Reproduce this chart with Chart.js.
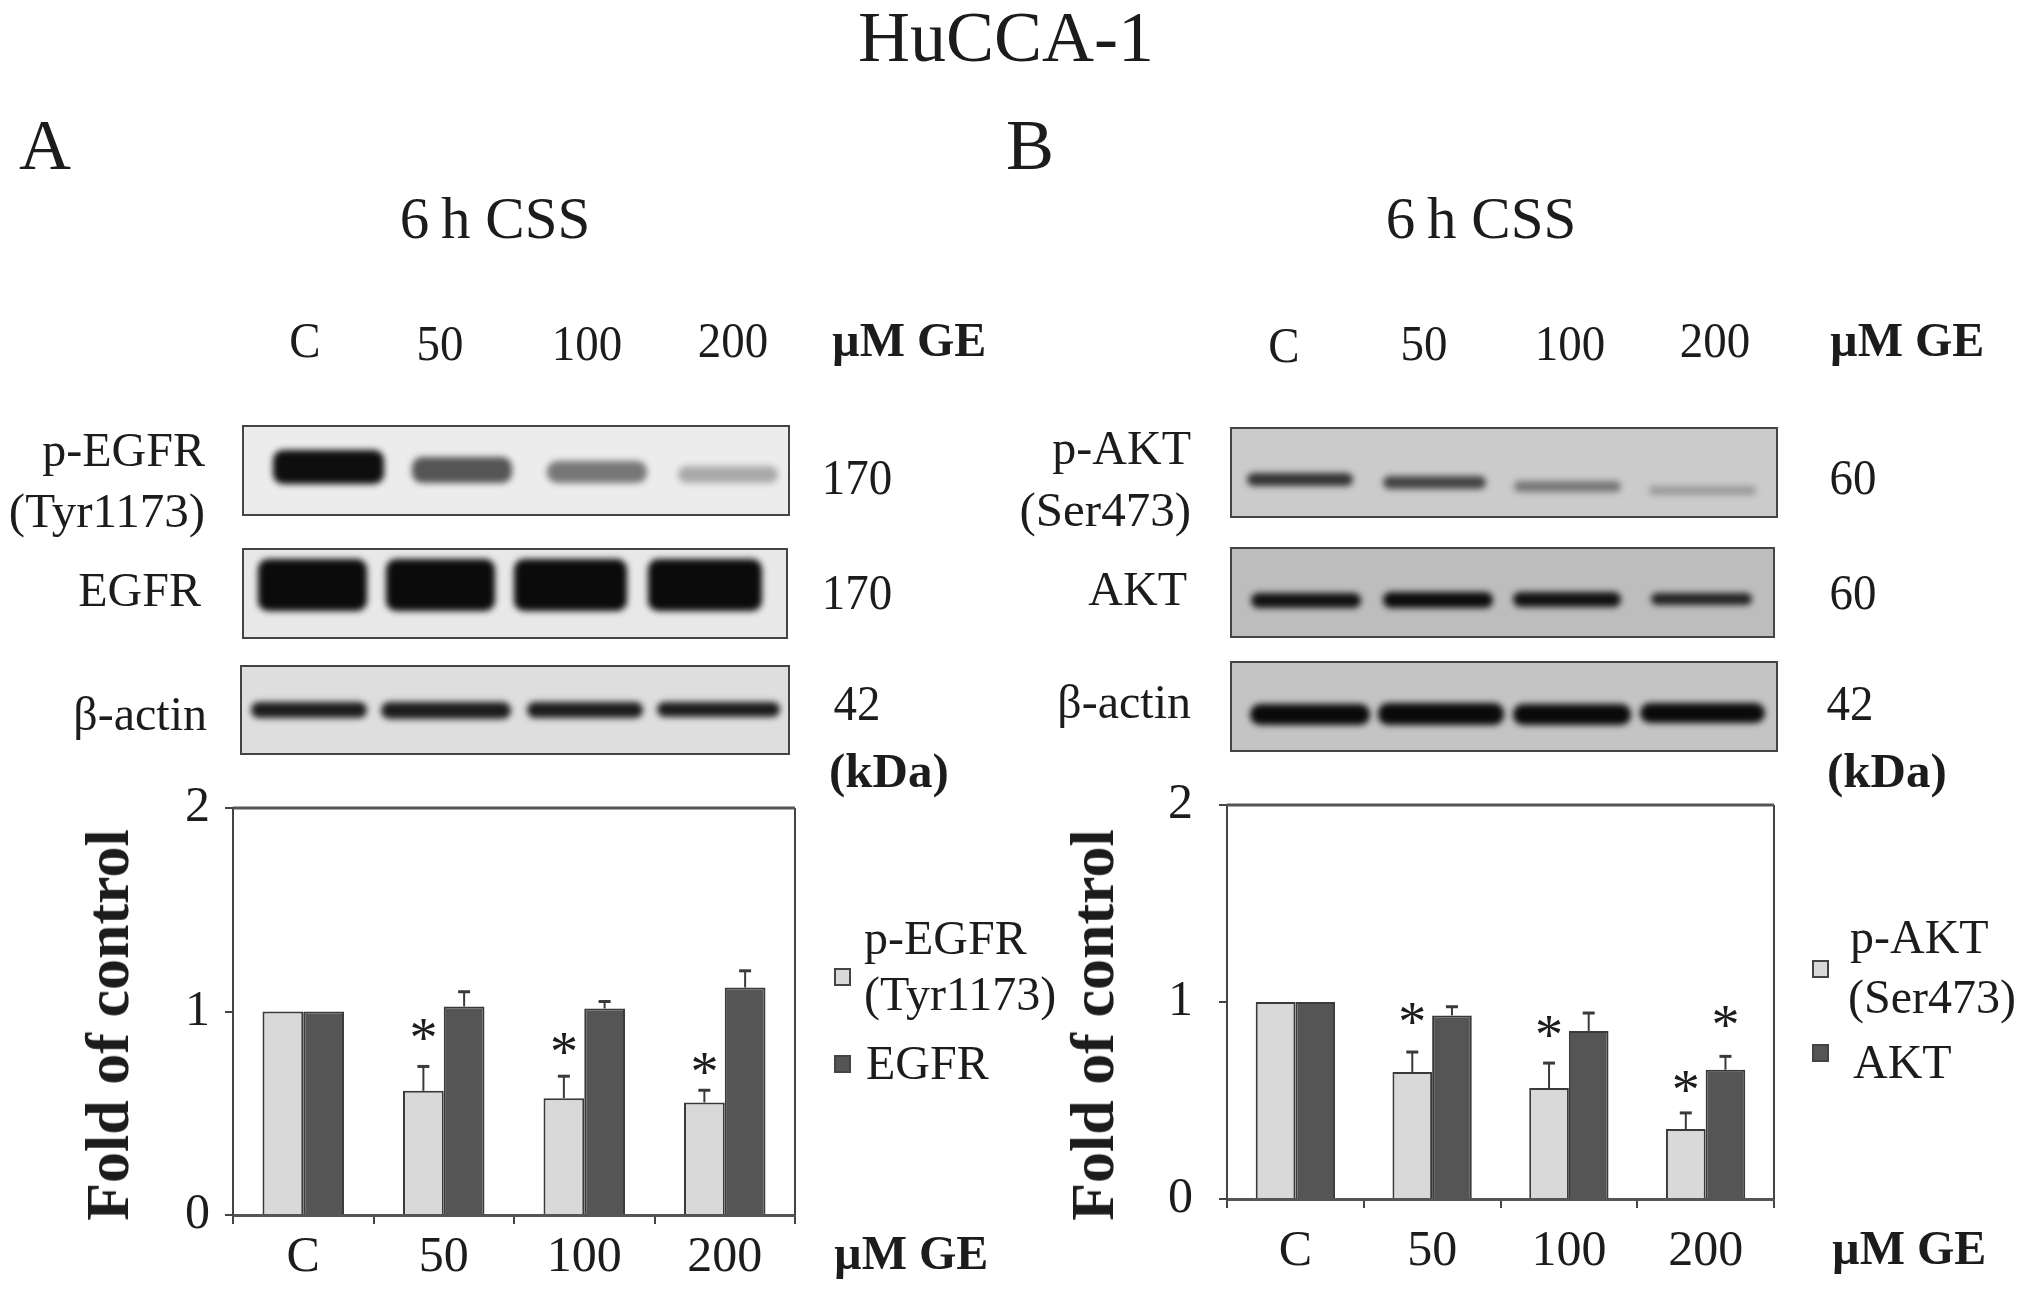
<!DOCTYPE html>
<html lang="en">
<head>
<meta charset="UTF-8">
<title>HuCCA-1</title>
<script src="https://cdn.jsdelivr.net/npm/chart.js"></script>
<style>
  html, body { margin: 0; padding: 0; background: #fff; }
  #fig { position: relative; width: 2031px; height: 1292px; overflow: hidden; font-family: "Liberation Serif", serif; color: #1c1c1c; filter: blur(0.5px); }
  #fig canvas { position: absolute; }
  .t { position: absolute; white-space: pre; line-height: 1; }
  .blot { position: absolute; box-sizing: border-box; border: 2px solid #444; }
  .band { position: absolute; border-radius: 10px; filter: blur(3px); }
  .swatch { position: absolute; box-sizing: border-box; width: 17px; height: 18px; border: 2px solid #444; }
</style>
</head>
<body>
<div id="fig">
  <canvas id="chartA"></canvas>
  <canvas id="chartB"></canvas>
</div>
<script>
  // values
  const categories = ['C', '50', '100', '200'];
  const yTicks = [0, 1, 2];

  const pEgfr = [1, 0.61, 0.574, 0.553];
  const egfr = [1, 1.025, 1.015, 1.118];
  const pEgfrErr = [0, 0.12, 0.108, 0.06];
  const egfrErr = [0, 0.072, 0.034, 0.082];
  const pEgfrStars = [null, 0.885, 0.82, 0.717];
  const egfrStars = [null, null, null, null];

  const pAkt = [1, 0.645, 0.563, 0.355];
  const akt = [1, 0.932, 0.853, 0.656];
  const pAktErr = [0, 0.101, 0.127, 0.082];
  const aktErr = [0, 0.044, 0.091, 0.068];
  const pAktStars = [null, 0.915, 0.848, 0.572];
  const aktStars = [null, null, null, 0.898];

  const fig = document.getElementById('fig');

  function text(str, x, y, size, opts = {}) {
    const d = document.createElement('div');
    d.className = 't';
    d.textContent = str;
    d.style.left = x + 'px';
    d.style.top = y + 'px';
    d.style.fontSize = size + 'px';
    if (opts.bold) d.style.fontWeight = 'bold';
    const shift = opts.anchor === 'r' ? '-100%' : opts.anchor === 'l' ? '0' : '-50%';
    const origin = opts.anchor === 'r' ? 'right' : opts.anchor === 'l' ? 'left' : 'center';
    d.style.transformOrigin = origin + ' center';
    d.style.transform = `translate(${shift}, -50%)` + (opts.sx ? ` scaleX(${opts.sx})` : '') + (opts.rot ? ` rotate(${opts.rot}deg)` : '');
    fig.appendChild(d);
  }

  // western blot strips, these are pictures and not chart data
  function blot(x0, x1, y0, y1, bg, bands) {
    const b = document.createElement('div');
    b.className = 'blot';
    b.style.cssText = `left:${x0}px;top:${y0}px;width:${x1 - x0}px;height:${y1 - y0}px;background:${bg}`;
    bands.forEach(([l, r, yc, h, col]) => {
      const s = document.createElement('div');
      s.className = 'band';
      s.style.cssText = `left:${l - x0 - 4}px;top:${yc - h / 2 - y0 - 2}px;width:${r - l + 8}px;height:${h + 4}px;background:${col}`;
      b.appendChild(s);
    });
    fig.appendChild(b);
  }

  function swatch(x, y, col) {
    const s = document.createElement('div');
    s.className = 'swatch';
    s.style.cssText = `left:${x}px;top:${y}px;background:${col}`;
    fig.appendChild(s);
  }

  const LIGHT = '#d9d9d9';
  const DARK = '#555555';

  text('HuCCA-1', 1006, 37, 72);
  text('A', 45, 145, 72);
  text('B', 1030, 145, 72);
  text('6\u2009h CSS', 495, 218, 59);
  text('6\u2009h CSS', 1481, 218, 59);

  // panel A labels
  [['C', 305, 340], ['50', 440, 343], ['100', 587, 343], ['200', 733, 340]].forEach(a => text(a[0], a[1], a[2], 51, { sx: 0.92 }));
  text('µM GE', 832, 340, 48, { bold: true, anchor: 'l' });
  text('p-EGFR', 205, 450, 48, { anchor: 'r' });
  text('(Tyr1173)', 205, 510, 49, { anchor: 'r' });
  text('EGFR', 201, 590, 48, { anchor: 'r' });
  text('β-actin', 207, 714, 48, { anchor: 'r' });
  text('170', 857, 477, 51, { sx: 0.92 });
  text('170', 857, 592, 51, { sx: 0.92 });
  text('42', 857, 703, 51, { sx: 0.92 });
  text('(kDa)', 829, 770, 49, { bold: true, anchor: 'l' });
  text('µM GE', 834, 1253, 48, { bold: true, anchor: 'l' });
  text('Fold of control', 107, 1025, 62, { bold: true, rot: -90 });
  swatch(834, 968, LIGHT);
  swatch(834, 1055, DARK);
  text('p-EGFR', 864, 938, 48, { anchor: 'l' });
  text('(Tyr1173)', 864, 994, 48, { anchor: 'l' });
  text('EGFR', 866, 1063, 48, { anchor: 'l' });

  blot(242, 790, 425, 516, '#ececec', [
    [275, 378, 465, 30, '#0e0e0e'], [414, 506, 468, 22, '#555'],
    [549, 641, 470, 18, '#777'], [680, 772, 472, 13, '#aaa']
  ]);
  blot(242, 788, 548, 639, '#e8e8e8', [
    [260, 361, 583, 48, '#0b0b0b'], [388, 489, 583, 48, '#0b0b0b'],
    [516, 621, 583, 48, '#0b0b0b'], [650, 756, 583, 48, '#0b0b0b']
  ]);
  blot(240, 790, 665, 755, '#dedede', [
    [253, 361, 708, 12, '#1c1c1c'], [383, 505, 708, 13, '#1c1c1c'],
    [529, 637, 708, 12, '#1c1c1c'], [659, 774, 707, 11, '#1c1c1c']
  ]);

  // panel B labels
  [['C', 1284, 345], ['50', 1424, 343], ['100', 1570, 343], ['200', 1715, 340]].forEach(a => text(a[0], a[1], a[2], 51, { sx: 0.92 }));
  text('µM GE', 1830, 340, 48, { bold: true, anchor: 'l' });
  text('p-AKT', 1191, 448, 48, { anchor: 'r' });
  text('(Ser473)', 1191, 509, 49, { anchor: 'r' });
  text('AKT', 1187, 589, 48, { anchor: 'r' });
  text('β-actin', 1191, 702, 48, { anchor: 'r' });
  text('60', 1853, 477, 51, { sx: 0.92 });
  text('60', 1853, 592, 51, { sx: 0.92 });
  text('42', 1850, 703, 51, { sx: 0.92 });
  text('(kDa)', 1827, 770, 49, { bold: true, anchor: 'l' });
  text('µM GE', 1832, 1248, 48, { bold: true, anchor: 'l' });
  text('Fold of control', 1092, 1025, 62, { bold: true, rot: -90 });
  swatch(1812, 960, LIGHT);
  swatch(1812, 1044, DARK);
  text('p-AKT', 1850, 937, 48, { anchor: 'l' });
  text('(Ser473)', 1848, 997, 48, { anchor: 'l' });
  text('AKT', 1853, 1062, 48, { anchor: 'l' });

  blot(1230, 1778, 427, 518, '#cbcbcb', [
    [1249, 1347, 477, 9, '#333'], [1385, 1480, 480, 9, '#444'],
    [1516, 1615, 484, 7, '#777'], [1651, 1750, 488, 5, '#999']
  ]);
  blot(1230, 1775, 547, 638, '#bdbdbd', [
    [1253, 1355, 598, 11, '#111'], [1385, 1487, 598, 12, '#0c0c0c'],
    [1515, 1615, 597, 11, '#111'], [1653, 1746, 597, 8, '#222']
  ]);
  blot(1230, 1778, 661, 752, '#c4c4c4', [
    [1252, 1364, 712, 17, '#0a0a0a'], [1380, 1498, 712, 18, '#0a0a0a'],
    [1515, 1625, 712, 17, '#0a0a0a'], [1642, 1759, 711, 16, '#0a0a0a']
  ]);

  // error bars (upper only), significance stars and the top/right frame lines
  const figMarks = {
    id: 'figMarks',
    afterDatasetsDraw(chart) {
      const { ctx, chartArea: a, scales: { y } } = chart;
      ctx.save();
      ctx.strokeStyle = '#444';
      ctx.lineWidth = 2;
      ctx.beginPath();
      ctx.moveTo(a.right, a.top);
      ctx.lineTo(a.right, a.bottom);
      ctx.stroke();
      ctx.strokeStyle = '#555';
      ctx.lineWidth = 3;
      ctx.beginPath();
      ctx.moveTo(a.left, a.top);
      ctx.lineTo(a.right, a.top);
      ctx.stroke();

      chart.data.datasets.forEach((ds, i) => {
        chart.getDatasetMeta(i).data.forEach((bar, j) => {
          if (ds.errs[j] > 0) {
            const top = y.getPixelForValue(ds.data[j] + ds.errs[j]);
            ctx.strokeStyle = '#3a3a3a';
            ctx.lineWidth = 2;
            ctx.beginPath();
            ctx.moveTo(bar.x, bar.y);
            ctx.lineTo(bar.x, top);
            ctx.stroke();
            ctx.lineWidth = 3;
            ctx.beginPath();
            ctx.moveTo(bar.x - 6, top);
            ctx.lineTo(bar.x + 6, top);
            ctx.stroke();
          }
          if (ds.stars[j] != null) {
            ctx.fillStyle = '#1c1c1c';
            ctx.font = '56px "Liberation Serif"';
            ctx.textAlign = 'center';
            ctx.textBaseline = 'alphabetic';
            ctx.fillText('*', bar.x, y.getPixelForValue(ds.stars[j]) + 0.4 * 56);
          }
        });
      });
      ctx.restore();
    }
  };

  function makeChart(id, box, plot, pads, series) {
    const cv = document.getElementById(id);
    cv.width = box.w;
    cv.height = box.h;
    cv.style.cssText = `left:${box.x}px;top:${box.y}px;width:${box.w}px;height:${box.h}px`;
    const tickFont = { family: '"Liberation Serif"', size: 50 };
    return new Chart(cv, {
      type: 'bar',
      data: {
        labels: categories,
        datasets: series.map(s => ({
          label: s.label,
          data: s.data,
          errs: s.errs,
          stars: s.stars,
          backgroundColor: s.color,
          borderColor: '#3a3a3a',
          borderWidth: 2,
          categoryPercentage: 0.58,
          barPercentage: 1
        }))
      },
      options: {
        responsive: false,
        animation: false,
        layout: { padding: { top: plot.top - box.y, right: box.x + box.w - plot.right, left: 0, bottom: 0 } },
        plugins: { legend: { display: false }, tooltip: { enabled: false } },
        scales: {
          x: {
            grid: { drawOnChartArea: false, tickLength: 9, color: '#444', lineWidth: 2 },
            border: { color: '#555', width: 3 },
            ticks: { font: tickFont, color: '#1c1c1c', padding: pads.x, maxRotation: 0, autoSkip: false },
            afterFit(scale) { scale.height = box.y + box.h - plot.bottom; }
          },
          y: {
            min: 0,
            max: 2,
            afterBuildTicks(scale) { scale.ticks = yTicks.map(v => ({ value: v })); },
            grid: { drawOnChartArea: false, tickLength: 8, color: '#444', lineWidth: 2 },
            border: { color: '#444', width: 2 },
            ticks: { font: tickFont, color: '#1c1c1c', padding: pads.y },
            afterFit(scale) { scale.width = plot.left - box.x; }
          }
        }
      },
      plugins: [figMarks]
    });
  }

  // tick padding also pads the plot top in Chart.js, so the canvases start well above it
  makeChart('chartA', { x: 130, y: 720, w: 680, h: 572 }, { left: 233, right: 795, top: 808, bottom: 1215 }, { x: 4, y: 15 }, [
    { label: 'p-EGFR (Tyr1173)', data: pEgfr, errs: pEgfrErr, stars: pEgfrStars, color: LIGHT },
    { label: 'EGFR', data: egfr, errs: egfrErr, stars: egfrStars, color: DARK }
  ]);
  makeChart('chartB', { x: 1120, y: 720, w: 670, h: 572 }, { left: 1227, right: 1774, top: 805, bottom: 1199 }, { x: 14, y: 26 }, [
    { label: 'p-AKT (Ser473)', data: pAkt, errs: pAktErr, stars: pAktStars, color: LIGHT },
    { label: 'AKT', data: akt, errs: aktErr, stars: aktStars, color: DARK }
  ]);
</script>
</body>
</html>
